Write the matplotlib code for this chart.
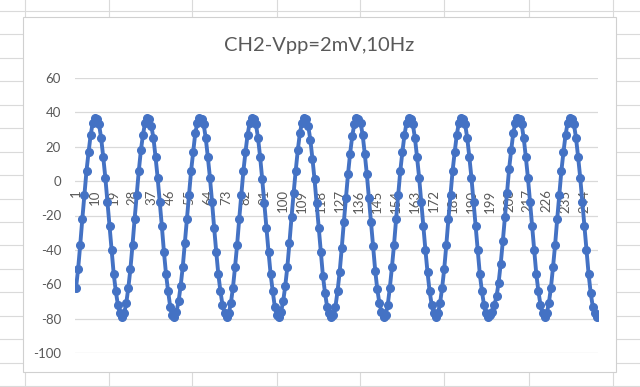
"""
CH2 waveform (Vpp = 2 mV, 10 Hz) redrawn as an Excel-style line chart
"""

import numpy as np
import matplotlib
matplotlib.use('Agg')
import matplotlib.pyplot as plt
from matplotlib.lines import Line2D
from matplotlib.patches import Rectangle

plt.rcParams['font.family'] = ['Lato', 'DejaVu Sans']

# Samples, one row per cycle
ch2 = [
    -62, -51, -37, -22, -8, 6, 17, 27, 34, 37, 36, 33, 25, 14, 2, -12, -26, -40, -54, -64, -72, -77, -79, -77, -71,
    -62, -51, -37, -22, -8, 6, 18, 27, 34, 37, 36, 32, 25, 14, 2, -12, -26, -41, -54, -64, -73, -78, -79, -76, -70,
    -61, -50, -36, -22, -8, 6, 17, 28, 34, 37, 36, 33, 25, 14, 2, -12, -27, -41, -54, -64, -72, -77, -79, -77, -71,
    -62, -50, -37, -22, -8, 6, 17, 27, 34, 37, 36, 33, 25, 14, 1, -13, -27, -41, -54, -64, -73, -78, -79, -76, -70,
    -61, -50, -36, -21, -7, 6, 18, 28, 34, 37, 36, 32, 24, 13, 1, -13, -27, -41, -55, -65, -73, -77, -79, -78, -73,
    -64, -53, -39, -24, -10, 4, 16, 26, 33, 37, 36, 34, 27, 16, 4, -10, -24, -38, -52, -63, -71, -76, -79, -78, -72,
    -62, -50, -37, -22, -8, 6, 17, 27, 34, 37, 36, 33, 25, 14, 2, -12, -26, -40, -53, -64, -72, -77, -79, -77, -71,
    -62, -51, -37, -22, -8, 6, 17, 27, 34, 37, 36, 33, 25, 14, 2, -12, -26, -40, -54, -64, -72, -77, -79, -78, -76, -72, -67,
    -59, -48, -35, -21, -7, 7, 18, 28, 34, 37, 36, 33, 25, 14, 2, -12, -26, -40, -54, -64, -72, -77, -79, -77, -71,
    -62, -50, -37, -22, -8, 6, 17, 27, 34, 37, 36, 33, 25, 14, 2, -12, -26, -40, -54, -65, -73, -77, -79,
]
samples = np.arange(1, len(ch2) + 1)
x_ticks = list(range(1, len(ch2) + 1, 9))
y_ticks = [-100, -80, -60, -40, -20, 0, 20, 40, 60]
title = 'CH2-Vpp=2mV,10Hz'

W, H = 640, 387
fig = plt.figure(figsize=(W / 100, H / 100), dpi=100)
fig.patch.set_facecolor('white')


def fx(px):
    return px / W


def fy(py):
    return 1 - py / H


# spreadsheet cell grid behind the chart
cell_color = '#DADADA'
for px in [25, 108.5, 192, 276.5, 360, 444, 529, 613]:
    fig.add_artist(Line2D([fx(px), fx(px)], [0, 1], color=cell_color, lw=0.8, zorder=0))
for py in np.arange(11, H + 1, 23.44):
    fig.add_artist(Line2D([0, 1], [fy(py), fy(py)], color=cell_color, lw=0.8, zorder=0))

# chart area box
fig.add_artist(Rectangle((fx(23), fy(372)), fx(616) - fx(23), fy(17) - fy(372),
                         facecolor='white', edgecolor='#D0D0D0', lw=0.8, zorder=1))

ax = fig.add_axes([fx(75), fy(353), fx(598) - fx(75), fy(78) - fy(353)], zorder=2)
ax.set_facecolor('none')

ax.plot(samples, ch2, color='#4472C4', lw=2.8, marker='o', markersize=5.5,
        markerfacecolor='#4472C4', markeredgecolor='#4472C4', zorder=3)

ax.set_xlim(0.5, len(ch2) + 0.5)
ax.set_ylim(-100, 60)
ax.set_yticks(y_ticks)
ax.set_yticklabels([str(v) for v in y_ticks])
ax.yaxis.grid(True, color='#D9D9D9', lw=0.9)
ax.set_axisbelow(True)

# category axis crosses at 0
ax.spines['bottom'].set_position(('data', 0))
ax.spines['bottom'].set_visible(False)
for s in ['top', 'right', 'left']:
    ax.spines[s].set_visible(False)
ax.set_xticks(x_ticks)
ax.set_xticklabels([str(v) for v in x_ticks], rotation=90)

ax.tick_params(axis='y', length=0, pad=10, labelsize=9.5, labelcolor='#595959')
ax.tick_params(axis='x', length=0, pad=6, labelsize=9.5, labelcolor='#595959')

fig.text(fx(319), fy(45.5), title, ha='center', va='center', fontsize=14.5, color='#595959')

plt.savefig('out.png', dpi=100)
